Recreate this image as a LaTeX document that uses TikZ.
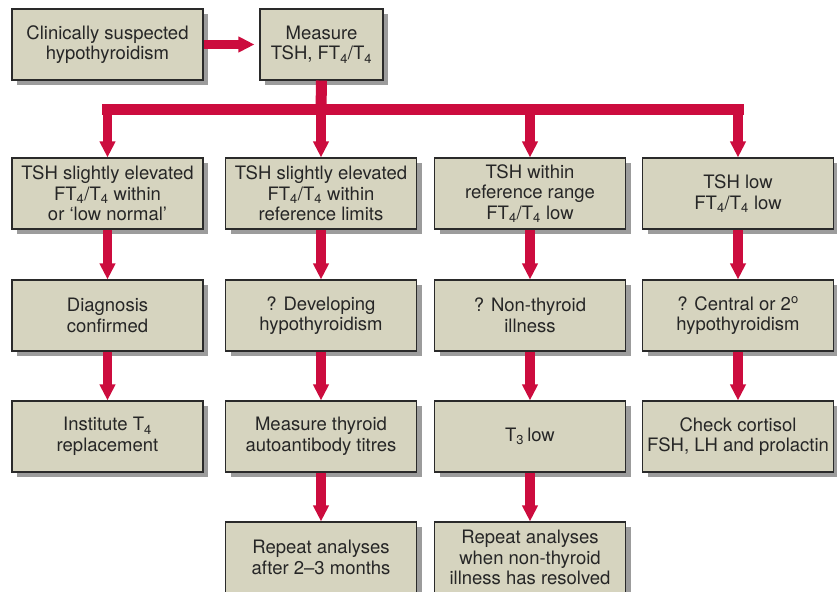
\documentclass[tikz,border=0pt]{standalone}
\usepackage{fontspec}
\setmainfont{TeX Gyre Heros}
\usetikzlibrary{arrows.meta,shadows}
\definecolor{boxfill}{HTML}{D6D4BF}
\definecolor{flowred}{HTML}{CC0C3E}
\definecolor{boxline}{HTML}{2A2A2A}
\definecolor{shade}{HTML}{9C9C9C}
\newcommand{\ftt}{FT\textsubscript{4}/T\textsubscript{4}}
\begin{document}
\begin{tikzpicture}[x=1pt,y=-1pt,
  box/.style={draw=boxline,line width=1.1pt,fill=boxfill,text=black!85,
    minimum width=191pt,minimum height=71pt,inner sep=0pt,align=center,
    drop shadow={shadow xshift=5pt,shadow yshift=-5pt,fill=shade,opacity=1}},
  flow/.style={draw=flowred,fill=flowred,line width=9.5pt,
    -{Triangle[width=15pt,length=16pt]}},
  bus/.style={draw=flowred,line width=11pt},
  every node/.style={font=\fontsize{18.5}{20.5}\selectfont}]
\useasboundingbox (0,0) rectangle (837,591);
% top row
\node[box] (suspect) at (107.5,44.5) {Clinically suspected\\hypothyroidism};
\node[box,minimum width=123pt] (measure) at (321.5,44.5) {Measure\\TSH, \ftt};
% results
\node[box] (elev) at (107.5,193.5) {TSH slightly elevated\\\ftt{} within\\or `low normal'};
\node[box] (elevref) at (321,193.5) {TSH slightly elevated\\\ftt{} within\\reference limits};
\node[box] (within) at (530,193.5) {TSH within\\reference range\\\ftt{} low};
\node[box] (low) at (738,193.5) {TSH low\\\ftt{} low};
% interpretation
\node[box] (diag) at (107.5,315.5) {Diagnosis\\confirmed};
\node[box] (develop) at (321,315.5) {? Developing\\hypothyroidism};
\node[box] (nonthy) at (530,315.5) {? Non-thyroid\\illness};
\node[box] (central) at (738,315.5) {? Central or 2\textsuperscript{o}\\hypothyroidism};
% action
\node[box] (institute) at (107.5,436.5) {Institute T\textsubscript{4}\\replacement};
\node[box] (antibody) at (321,436.5) {Measure thyroid\\autoantibody titres};
\node[box] (tthree) at (530,436.5) {T\textsubscript{3}\,low};
\node[box] (cortisol) at (738,436.5) {Check cortisol\\FSH, LH and prolactin};
\node[box] (repeat) at (321,557.5) {Repeat analyses\\after 2--3 months};
\node[box] (resolved) at (530,557.5) {Repeat analyses\\when non-thyroid\\illness has resolved};
% connectors
\draw[flow,shorten >=5pt] (suspect.east) -- (measure.west);
\coordinate (split) at (321,110);
\draw[bus] (measure.south) -- (split);
\draw[bus,line cap=rect] (split -| elev) -- (split -| low);
\foreach \n in {elev,elevref,within,low}
  \draw[flow] (split -| \n) -- (\n.north);
\foreach \a/\b in {elev/diag,diag/institute,elevref/develop,develop/antibody,
  antibody/repeat,within/nonthy,nonthy/tthree,tthree/resolved,
  low/central,central/cortisol}
  \draw[flow] (\a.south) -- (\b.north);
\end{tikzpicture}
\end{document}
